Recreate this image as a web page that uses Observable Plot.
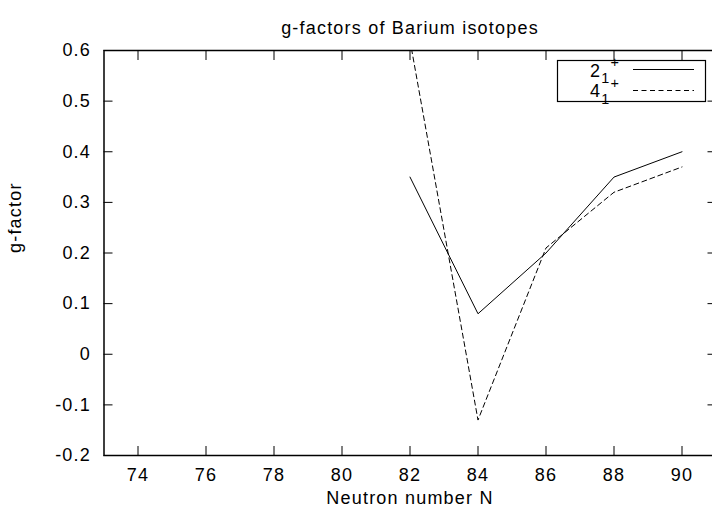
<!DOCTYPE html>
<html><head><meta charset="utf-8">
<script src="https://cdn.jsdelivr.net/npm/d3@7"></script>
<script src="https://cdn.jsdelivr.net/npm/@observablehq/plot@0.6"></script>
<style>
html,body{margin:0;padding:0;background:#fff;overflow:hidden;}
#chart{position:relative;width:712px;height:517px;overflow:hidden;}
#chart svg{max-width:none !important;}
</style></head><body><div id="chart"></div>
<script>
// ---- data ----
const neutrons = [82, 84, 86, 88, 90];
const g21 = [0.35, 0.08, 0.20, 0.35, 0.40];   // 2_1^+
const g41 = [0.62, -0.13, 0.21, 0.32, 0.37];  // 4_1^+
const xTicks = [74, 76, 78, 80, 82, 84, 86, 88, 90];
const yTicks = [-0.2, -0.1, 0, 0.1, 0.2, 0.3, 0.4, 0.5, 0.6];
const titleText = "g-factors of Barium isotopes";
const xLabel = "Neutron number N";
const yLabel = "g-factor";
const legendBase = ["2", "4"];
const legendSub = ["1", "1"];
const legendSup = ["+", "+"];

const rows21 = neutrons.map((n, i) => ({N: n, g: g21[i]}));
const rows41 = neutrons.map((n, i) => ({N: n, g: g41[i]}));

const W = 720, H = 517;
const fLeft = 103.5, fRight = 715.5, fTop = 50, fBottom = 455;
const FONT = "'Liberation Sans', Arial, Helvetica, sans-serif";
const LS = "1.2px";

const chart = Plot.plot({
  width: W, height: H,
  marginLeft: fLeft, marginRight: W - fRight, marginTop: fTop, marginBottom: H - fBottom,
  style: {fontFamily: FONT, fontSize: "18px", color: "#000", background: "#fff", overflow: "visible", letterSpacing: LS, maxWidth: "none"},
  x: {domain: [73, 91]},
  y: {domain: [-0.2, 0.6]},
  marks: [
    Plot.lineY(rows21, {x: "N", y: "g", stroke: "#000", strokeWidth: 1, clip: true}),
    Plot.lineY(rows41, {x: "N", y: "g", stroke: "#000", strokeWidth: 1, strokeDasharray: "5,3.5", clip: true}),
    Plot.axisX({anchor: "bottom", ticks: xTicks, tickSize: -9, tickPadding: 22, label: null, tickFormat: d => String(d), fontSize: 18}),
    Plot.axisX({anchor: "top", ticks: xTicks, tickSize: -9, label: null, tickFormat: () => ""}),
    Plot.axisY({anchor: "left", ticks: yTicks, tickSize: -9, tickPadding: 22, label: null, tickFormat: d => d === 0 ? "0" : d.toFixed(1), fontSize: 18}),
    Plot.axisY({anchor: "right", ticks: yTicks, tickSize: -9, label: null, tickFormat: () => ""}),
    Plot.frame({stroke: "#000", strokeWidth: 1.5}),
    Plot.text([titleText], {text: d => d, frameAnchor: "top", dy: -29, fontSize: 18}),
    Plot.text([xLabel], {text: d => d, frameAnchor: "bottom", dy: 48, fontSize: 18}),
    Plot.text([yLabel], {text: d => d, frameAnchor: "left", rotate: -90, dx: -88.5, fontSize: 18})
  ]
});
chart.style.maxWidth = "none";
document.getElementById("chart").appendChild(chart);

// ---- legend (key box as in the reference) ----
const svgSel = d3.select(chart);
const key = svgSel.append("g").attr("font-family", FONT).attr("fill", "#000");
key.append("rect").attr("x", 557.5).attr("y", 60.5).attr("width", 148).attr("height", 41)
  .attr("fill", "none").attr("stroke", "#000").attr("stroke-width", 1.2);
const baselines = [76.5, 97];
const lineYs = [69.5, 90.5];
const dashes = [null, "5,3.5"];
legendBase.forEach((b, i) => {
  const t = key.append("text").attr("x", 620).attr("y", baselines[i]).attr("text-anchor", "end")
    .attr("font-size", 18).style("letter-spacing", LS);
  t.append("tspan").text(b);
  t.append("tspan").attr("font-size", 14.4).attr("dy", 6.5).text(legendSub[i]);
  t.append("tspan").attr("font-size", 14.4).attr("dy", -16).text(legendSup[i]);
  key.append("line").attr("x1", 633).attr("x2", 694).attr("y1", lineYs[i]).attr("y2", lineYs[i])
    .attr("stroke", "#000").attr("stroke-width", 1).attr("stroke-dasharray", dashes[i]);
});
</script>
</body></html>
